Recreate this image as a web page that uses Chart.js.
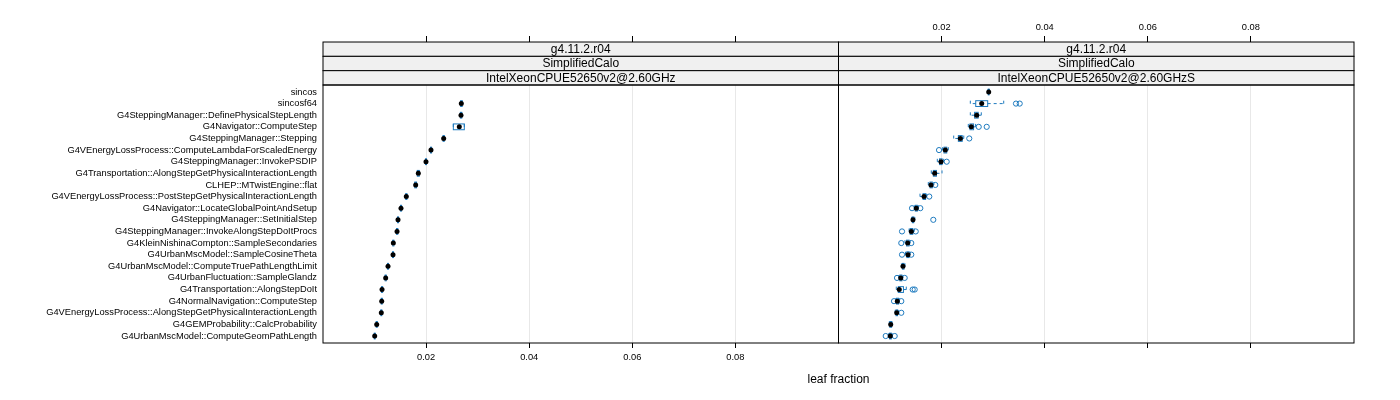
<!DOCTYPE html>
<html>
<head>
<meta charset="utf-8">
<title>leaf fraction</title>
<script src="https://cdn.jsdelivr.net/npm/chart.js@4.4.1/dist/chart.umd.min.js"></script>
<style>
  html, body { margin: 0; padding: 0; background: #fff; }
  #wrap { position: relative; width: 1400px; height: 400px; font-family: "Liberation Sans", Arial, sans-serif; }
  #wrap canvas { position: absolute; left: 0; top: 0; }
  #xtitle { position: absolute; top: 372px; left: 838.5px; transform: translateX(-50%);
            font-size: 12px; line-height: 14px; color: #000; white-space: nowrap; }
</style>
</head>
<body>
<div id="wrap">
  <canvas id="panelA" width="1400" height="400"></canvas>
  <canvas id="panelB" width="1400" height="400"></canvas>
  <div id="xtitle">leaf fraction</div>
</div>
<script>
// ---------------- data ----------------

const categories = [
    "sincos",
    "sincosf64",
    "G4SteppingManager::DefinePhysicalStepLength",
    "G4Navigator::ComputeStep",
    "G4SteppingManager::Stepping",
    "G4VEnergyLossProcess::ComputeLambdaForScaledEnergy",
    "G4SteppingManager::InvokePSDIP",
    "G4Transportation::AlongStepGetPhysicalInteractionLength",
    "CLHEP::MTwistEngine::flat",
    "G4VEnergyLossProcess::PostStepGetPhysicalInteractionLength",
    "G4Navigator::LocateGlobalPointAndSetup",
    "G4SteppingManager::SetInitialStep",
    "G4SteppingManager::InvokeAlongStepDoItProcs",
    "G4KleinNishinaCompton::SampleSecondaries",
    "G4UrbanMscModel::SampleCosineTheta",
    "G4UrbanMscModel::ComputeTruePathLengthLimit",
    "G4UrbanFluctuation::SampleGlandz",
    "G4Transportation::AlongStepDoIt",
    "G4NormalNavigation::ComputeStep",
    "G4VEnergyLossProcess::AlongStepGetPhysicalInteractionLength",
    "G4GEMProbability::CalcProbability",
    "G4UrbanMscModel::ComputeGeomPathLength"
];

const stripRows = ["g4.11.2.r04", "SimplifiedCalo"];
const machineLeft = "IntelXeonCPUE52650v2@2.60GHz";
const machineRight = "IntelXeonCPUE52650v2@2.60GHzS";

const tickVals = [0.02, 0.04, 0.06, 0.08];
const xMin = 0;
const xMax = 0.1;

// left panel (IntelXeonCPUE52650v2@2.60GHz)
const medL = [null, 0.02683, 0.02677, 0.02644, 0.02341, 0.02095, 0.01998, 0.01849, 0.01798, 0.01616, 0.01513,
              0.01455, 0.01436, 0.01364, 0.01358, 0.01261, 0.01216, 0.01145, 0.01139, 0.01131, 0.01042, 0.01003];
const q1L  = [null, 0.02670, 0.02665, 0.02528, 0.02330, 0.02085, 0.01988, 0.01830, 0.01780, 0.01605, 0.01503,
              0.01445, 0.01426, 0.01354, 0.01348, 0.01251, 0.01206, 0.01135, 0.01130, 0.01122, 0.01033, 0.00995];
const q3L  = [null, 0.02700, 0.02692, 0.02741, 0.02352, 0.02106, 0.02008, 0.01868, 0.01815, 0.01627, 0.01524,
              0.01466, 0.01450, 0.01374, 0.01368, 0.01271, 0.01226, 0.01156, 0.01149, 0.01141, 0.01052, 0.01012];
const outL = [[], [], [], [], [], [], [], [], [], [], [], [], [], [], [], [], [], [], [], [], [], []];

// right panel (IntelXeonCPUE52650v2@2.60GHzS)
const medR = [0.02914, 0.02778, 0.02681, 0.02576, 0.02363, 0.02072, 0.01988, 0.01866, 0.01794, 0.01659, 0.01509,
              0.01445, 0.01412, 0.01342, 0.01348, 0.01251, 0.01207, 0.01179, 0.01141, 0.01129, 0.01013, 0.01005];
const q1R  = [0.02905, 0.02662, 0.02640, 0.02550, 0.02325, 0.02045, 0.01960, 0.01840, 0.01775, 0.01640, 0.01490,
              0.01432, 0.01390, 0.01320, 0.01325, 0.01240, 0.01190, 0.01160, 0.01125, 0.01115, 0.00995, 0.00990];
const q3R  = [0.02922, 0.02894, 0.02710, 0.02620, 0.02400, 0.02100, 0.02010, 0.01900, 0.01820, 0.01690, 0.01530,
              0.01460, 0.01440, 0.01370, 0.01370, 0.01270, 0.01230, 0.01260, 0.01165, 0.01145, 0.01030, 0.01025];
const loR  = [0.02900, 0.02557, 0.02557, 0.02518, 0.02235, 0.02020, 0.01917, 0.01800, 0.01742, 0.01581, 0.01470,
              0.01420, 0.01370, 0.01290, 0.01300, 0.01220, 0.01170, 0.01121, 0.01110, 0.01100, 0.00985, 0.00975];
const hiR  = [0.02930, 0.03205, 0.02770, 0.02660, 0.02430, 0.02130, 0.02040, 0.02008, 0.01850, 0.01710, 0.01550,
              0.01480, 0.01470, 0.01390, 0.01390, 0.01290, 0.01250, 0.01315, 0.01180, 0.01160, 0.01040, 0.01040];
const outR = [[], [0.03443, 0.03515], [], [0.02720, 0.02875], [0.02537], [0.01950], [0.02099], [], [0.01878],
              [0.01761], [0.01426, 0.01587], [0.01839], [0.01232, 0.01498], [0.01218, 0.01412], [0.01232, 0.01412],
              [], [0.01135, 0.01284], [0.01439, 0.01478], [0.01077, 0.01218], [0.01218], [], [0.00916, 0.01090]];

// ---------------- style ----------------

const BLUE = '#1f7bbf';
const GRID = '#e8e8e8';
const FONT = "'Liberation Sans', Arial, sans-serif";
const BOX_HALF = 0.25;   // half box height in category units
const AXIS_FONT = 9.3;

Chart.defaults.font.family = FONT;
Chart.defaults.color = '#000';

// ---------------- plugins ----------------

function bwPlugin(s) {
    return {
        id: 'bw',
        beforeDatasetsDraw(chart) {
            const { ctx, scales: { x, y } } = chart;
            ctx.save();
            ctx.strokeStyle = BLUE;
            ctx.lineWidth = 1;
            s.med.forEach((m, i) => {
                if (m == null) return;
                const yc = y.getPixelForValue(i + 1);
                const h = Math.abs(y.getPixelForValue(i + 1 + BOX_HALF) - yc);
                const xlo = x.getPixelForValue(s.lo[i]);
                const xq1 = x.getPixelForValue(s.q1[i]);
                const xq3 = x.getPixelForValue(s.q3[i]);
                const xhi = x.getPixelForValue(s.hi[i]);
                // umbrella (dashed)
                ctx.setLineDash([3, 3]);
                ctx.beginPath();
                ctx.moveTo(xq1, yc); ctx.lineTo(xlo, yc);
                ctx.moveTo(xq3, yc); ctx.lineTo(xhi, yc);
                ctx.moveTo(xlo, yc - h); ctx.lineTo(xlo, yc + h);
                ctx.moveTo(xhi, yc - h); ctx.lineTo(xhi, yc + h);
                ctx.stroke();
                // box
                ctx.setLineDash([]);
                ctx.strokeRect(xq1, yc - h, xq3 - xq1, 2 * h);
            });
            ctx.restore();
        }
    };
}

function stripPlugin(labels) {
    return {
        id: 'strips',
        afterDraw(chart) {
            const { ctx, chartArea: a } = chart;
            const sh = 14.33;
            ctx.save();
            ctx.font = '12px ' + FONT;
            ctx.textAlign = 'center';
            ctx.textBaseline = 'middle';
            labels.forEach((t, k) => {
                const top = a.top - (labels.length - k) * sh;
                ctx.fillStyle = '#f0f0f0';
                ctx.fillRect(a.left, top, a.right - a.left, sh);
                ctx.strokeStyle = '#000';
                ctx.lineWidth = 1;
                ctx.strokeRect(a.left, top, a.right - a.left, sh);
                ctx.fillStyle = '#000';
                ctx.fillText(t, (a.left + a.right) / 2, top + sh / 2 + 0.5);
            });
            // panel border
            ctx.strokeRect(a.left, a.top, a.right - a.left, a.bottom - a.top);
            ctx.restore();
        }
    };
}

// ---------------- panel builder ----------------

function buildPanel(canvasId, s, opt) {
    const medPts = [];
    const outPts = [];
    s.med.forEach((m, i) => {
        if (m != null) medPts.push({ x: m, y: i + 1 });
        s.out[i].forEach(v => outPts.push({ x: v, y: i + 1 }));
    });

    const setTicks = scale => { scale.ticks = tickVals.map(v => ({ value: v })); };

    return new Chart(document.getElementById(canvasId), {
        type: 'scatter',
        data: {
            datasets: [
                {
                    label: 'median',
                    data: medPts,
                    pointStyle: 'circle',
                    pointRadius: 2.5,
                    backgroundColor: '#000',
                    borderWidth: 0
                },
                {
                    label: 'outliers',
                    data: outPts,
                    pointStyle: 'circle',
                    pointRadius: 2.6,
                    backgroundColor: 'rgba(0,0,0,0)',
                    borderColor: BLUE,
                    borderWidth: 1
                }
            ]
        },
        options: {
            responsive: false,
            animation: false,
            events: [],
            layout: { padding: opt.padding },
            plugins: { legend: { display: false }, tooltip: { enabled: false } },
            scales: {
                x: {
                    type: 'linear',
                    position: 'bottom',
                    min: xMin,
                    max: xMax,
                    afterBuildTicks: setTicks,
                    afterFit: scale => { scale.height = 57; },
                    grid: { color: GRID, tickColor: '#000', tickLength: 5 },
                    border: { display: false },
                    ticks: {
                        display: opt.bottomLabels,
                        font: { size: AXIS_FONT },
                        padding: 4,
                        maxRotation: 0,
                        callback: v => String(v)
                    }
                },
                x2: {
                    type: 'linear',
                    position: 'top',
                    min: xMin,
                    max: xMax,
                    afterBuildTicks: setTicks,
                    afterFit: scale => { scale.height = 85; },
                    grid: { drawOnChartArea: false, tickColor: '#000', tickLength: 49 },
                    border: { display: false },
                    ticks: {
                        display: opt.topLabels,
                        font: { size: AXIS_FONT },
                        padding: 3,
                        maxRotation: 0,
                        callback: v => String(v)
                    }
                },
                y: {
                    type: 'linear',
                    display: opt.showY,
                    reverse: true,
                    min: 0.4,
                    max: categories.length + 0.6,
                    afterBuildTicks: scale => { scale.ticks = categories.map((c, i) => ({ value: i + 1 })); },
                    afterFit: scale => { scale.width = opt.showY ? 323 : 0; },
                    grid: { display: false, drawTicks: false },
                    border: { display: false },
                    ticks: {
                        autoSkip: false,
                        font: { size: AXIS_FONT },
                        padding: 6,
                        callback: v => categories[v - 1]
                    }
                }
            }
        },
        plugins: [bwPlugin(s), stripPlugin(opt.strips)]
    });
}

buildPanel('panelA',
    { med: medL, q1: q1L, q3: q3L, lo: q1L, hi: q3L, out: outL },
    {
        padding: { left: 0, right: 1400 - 838.5, top: 0, bottom: 0 },
        showY: true,
        bottomLabels: true,
        topLabels: false,
        strips: stripRows.concat([machineLeft])
    });

buildPanel('panelB',
    { med: medR, q1: q1R, q3: q3R, lo: loR, hi: hiR, out: outR },
    {
        padding: { left: 838.5, right: 46, top: 0, bottom: 0 },
        showY: false,
        bottomLabels: false,
        topLabels: true,
        strips: stripRows.concat([machineRight])
    });
</script>
</body>
</html>
